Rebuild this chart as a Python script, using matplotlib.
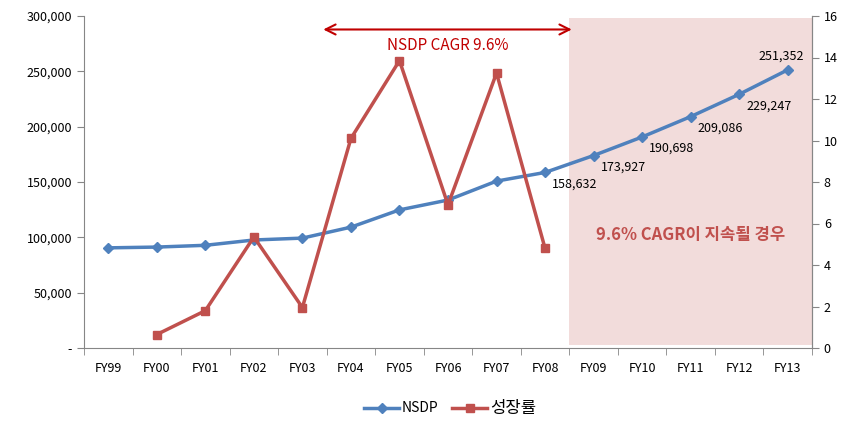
import matplotlib.pyplot as plt
import numpy as np
from matplotlib.ticker import FuncFormatter

plt.rcParams['font.family'] = ['Noto Sans CJK KR', 'DejaVu Sans']

years = ['FY99', 'FY00', 'FY01', 'FY02', 'FY03', 'FY04', 'FY05', 'FY06',
         'FY07', 'FY08', 'FY09', 'FY10', 'FY11', 'FY12', 'FY13']
nsdp = [90500, 91200, 92800, 97600, 99300, 109200, 124800, 133700,
        150800, 158632, 173927, 190698, 209086, 229247, 251352]
growth = [None, 0.65, 1.8, 5.35, 1.95, 10.1, 13.85, 6.9, 13.25, 4.8,
          None, None, None, None, None]
label_years = ['FY08', 'FY09', 'FY10', 'FY11', 'FY12', 'FY13']

blue = '#4F81BD'
red = '#C0504D'
x = np.arange(len(years))

fig = plt.figure(figsize=(8.57, 4.30), dpi=100)
ax = fig.add_axes([84 / 857, 82 / 430, 728 / 857, 332 / 430])
ax2 = ax.twinx()

# forecast shading
ax.axvspan(9.5, 14.5, ymin=0.01, ymax=0.995, color='#F2DCDB', lw=0, zorder=0)

ax.plot(x, nsdp, color=blue, lw=2.5, marker='D', ms=5.5, zorder=3, label='NSDP')
gx = [i for i, g in enumerate(growth) if g is not None]
gy = [g for g in growth if g is not None]
ax2.plot(gx, gy, color=red, lw=2.5, marker='s', ms=6, zorder=3, label='성장률')

for yr in label_years:
    i = years.index(yr)
    if yr == 'FY13':
        ax.annotate(f'{nsdp[i]:,}', (i, nsdp[i]), xytext=(-5, 10),
                    textcoords='offset points', ha='center', va='center', fontsize=9)
    else:
        ax.annotate(f'{nsdp[i]:,}', (i, nsdp[i]), xytext=(5, -3.5),
                    textcoords='offset points', ha='left', va='top', fontsize=9)

ax.set_xlim(-0.5, 14.5)
ax.set_ylim(0, 300000)
ax2.set_ylim(0, 16)
ax.set_yticks(np.arange(0, 300001, 50000))
ax.yaxis.set_major_formatter(FuncFormatter(lambda v, p: '-' if v == 0 else f'{int(v):,}'))
ax2.set_yticks(np.arange(0, 17, 2))

ax.set_xticks(x)
ax.set_xticklabels(years)
ax.set_xticks(np.arange(-0.5, 15, 1), minor=True)
ax.tick_params(axis='x', which='major', length=0, pad=10, labelsize=9)
ax.tick_params(axis='x', which='minor', length=5, color='#868686')
ax.tick_params(axis='y', length=5, color='#868686', labelsize=9)
ax2.tick_params(axis='y', length=5, color='#868686', labelsize=9)

for a in (ax, ax2):
    a.spines['top'].set_visible(False)
    for s in ('left', 'right', 'bottom'):
        a.spines[s].set_color('#868686')
ax2.spines['left'].set_visible(False)
ax2.spines['bottom'].set_visible(False)

# CAGR arrow
ax2.annotate('', xy=(4.43, 15.35), xytext=(9.55, 15.35),
             arrowprops=dict(arrowstyle='<->', color='#C00000', lw=1.5, mutation_scale=18,
                             shrinkA=0, shrinkB=0))
ax2.text(7.0, 14.6, 'NSDP CAGR 9.6%', color='#C00000', fontsize=11, ha='center', va='center')
ax2.text(12.0, 5.45, '9.6% CAGR이 지속될 경우', color=red, fontsize=12,
         fontweight='bold', ha='center', va='center')

h1, l1 = ax.get_legend_handles_labels()
h2, l2 = ax2.get_legend_handles_labels()
leg = fig.legend(h1 + h2, l1 + l2, loc='center', bbox_to_anchor=(450 / 857, 1 - 408 / 430),
                 ncol=2, frameon=False, fontsize=10, handlelength=2.5, columnspacing=1.0,
                 handletextpad=0.2)
leg.get_texts()[1].set_fontsize(12)

plt.savefig('out.png')
